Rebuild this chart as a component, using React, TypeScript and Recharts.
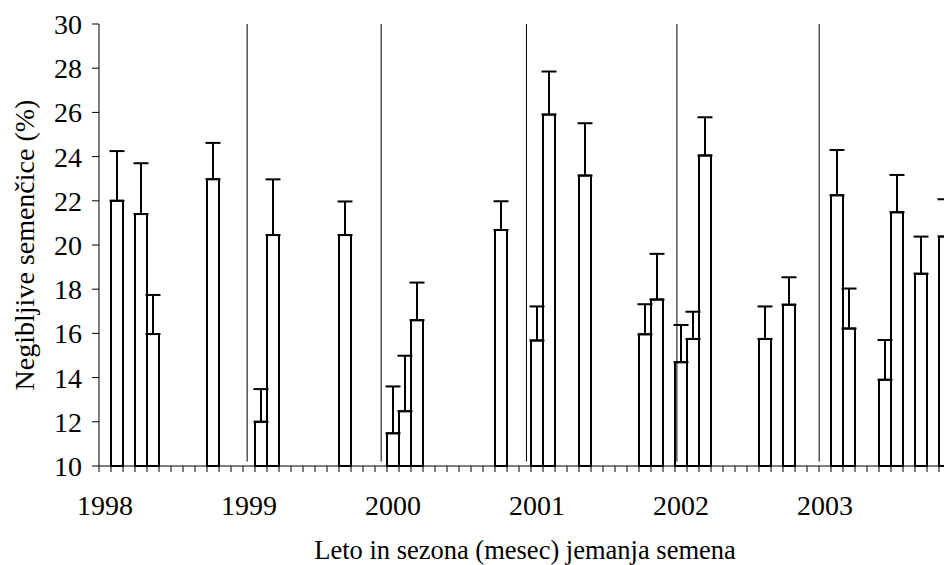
import React from 'react';
import { BarChart, Bar, XAxis, YAxis, ErrorBar, ReferenceLine } from 'recharts';

// year labels, one per january
const years = ['1998', '1999', '2000', '2001', '2002', '2003'];
const monthCount = 71; // jan 1998 .. nov 2003

// month index (0 = jan 1998) of each sampled bar
const barMonths = [1, 3, 4, 9, 13, 14, 20, 24, 25, 26, 33, 36, 37, 40, 45, 46, 48, 49, 50, 55, 57, 61, 62, 65, 66, 68, 70];
const barValues = [22.0, 21.4, 15.97, 22.98, 12.0, 20.45, 20.45, 11.48, 12.48, 16.6, 20.68, 15.68, 25.9, 23.14, 15.96, 17.53, 14.7, 15.75, 24.05, 15.75, 17.3, 22.25, 16.22, 13.9, 21.48, 18.7, 20.38];
const barErrors = [2.25, 2.3, 1.77, 1.64, 1.48, 2.52, 1.52, 2.12, 2.51, 1.7, 1.3, 1.54, 1.95, 2.37, 1.36, 2.07, 1.68, 1.23, 1.73, 1.47, 1.24, 2.05, 1.81, 1.8, 1.69, 1.68, 1.69];

// season boundaries (in months from jan 1998)
const yearLines = [12.17, 23.18, 35.12, 47.48, 59.17];

const yTicks = [10, 12, 14, 16, 18, 20, 22, 24, 26, 28, 30];

const data = Array.from({ length: monthCount }, (_, i) => {
  const k = barMonths.indexOf(i);
  return {
    month: i,
    value: k >= 0 ? barValues[k] : null,
    err: k >= 0 ? [0, barErrors[k]] : undefined,
  };
});

const FONT = "'Liberation Serif', 'Times New Roman', serif";
const BAND = 12;
const TICK_MARGIN = 29;

const MonthTick = (props: any) => {
  const { x, y, payload } = props;
  const i = Number(payload.value);
  const axisY = y - TICK_MARGIN;
  return (
    <g>
      <line x1={x - BAND / 2} x2={x - BAND / 2} y1={axisY} y2={axisY + 6} stroke="#000" strokeWidth={1} />
      {i % 12 === 0 && (
        <text x={x} y={y} dy="0.71em" textAnchor="middle" fontSize={28} fill="#000" fontFamily={FONT}>
          {years[i / 12]}
        </text>
      )}
    </g>
  );
};

export default function App() {
  return (
    <div style={{ position: 'absolute', left: 0, top: 0, width: 944, height: 565, overflow: 'hidden', background: '#fff', fontFamily: FONT }}>
      <BarChart
        width={961}
        height={565}
        data={data}
        margin={{ top: 24, right: 10, bottom: 0, left: 0 }}
        barCategoryGap={0}
      >
        <XAxis
          dataKey="month"
          type="category"
          interval={0}
          height={99}
          tickLine={false}
          tickSize={0}
          tickMargin={TICK_MARGIN}
          tick={<MonthTick />}
          axisLine={{ stroke: '#000', strokeWidth: 1 }}
          label={{ value: 'Leto in sezona (mesec) jemanja semena', position: 'insideBottom', offset: 6, fill: '#000', fontSize: 26.5, fontFamily: FONT }}
        />
        <XAxis xAxisId="m" type="number" domain={[0, monthCount]} hide />
        <YAxis
          domain={[10, 30]}
          ticks={yTicks}
          width={99}
          tickSize={7}
          tickMargin={10}
          tick={{ fill: '#000', fontSize: 28, fontFamily: FONT }}
          tickLine={{ stroke: '#000' }}
          axisLine={{ stroke: '#000', strokeWidth: 1 }}
          label={{ value: 'Negibljive semenčice (%)', angle: -90, position: 'insideLeft', offset: 24, fill: '#000', fontSize: 28, fontFamily: FONT, style: { textAnchor: 'middle' } }}
        />
        {yearLines.map((m) => (
          <ReferenceLine
            key={m}
            xAxisId="m"
            segment={[{ x: m, y: 30 }, { x: m, y: 10.2 }]}
            stroke="#000"
            strokeWidth={1}
          />
        ))}
        <Bar dataKey="value" fill="#fff" stroke="#000" strokeWidth={2} isAnimationActive={false}>
          <ErrorBar dataKey="err" direction="y" width={7.5} stroke="#000" strokeWidth={2} isAnimationActive={false} />
        </Bar>
      </BarChart>
    </div>
  );
}
